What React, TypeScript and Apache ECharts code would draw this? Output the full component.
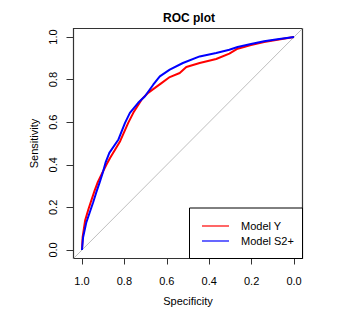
import React, { useEffect, useRef } from "react";
import * as echarts from "echarts";

const xTicks = [0, 0.2, 0.4, 0.6, 0.8, 1.0];
const yTicks = [0, 0.2, 0.4, 0.6, 0.8, 1.0];

// Model Y (red): specificity, sensitivity
const redSpec = [1, 0.997, 0.985, 0.97, 0.955, 0.94, 0.925, 0.905, 0.885, 0.867, 0.82, 0.782, 0.758, 0.719, 0.688, 0.656, 0.63, 0.586, 0.539, 0.508, 0.445, 0.367, 0.305, 0.266, 0.203, 0.141, 0.078, 0];
const redSens = [0, 0.06, 0.14, 0.19, 0.235, 0.28, 0.32, 0.36, 0.4, 0.433, 0.511, 0.597, 0.644, 0.706, 0.738, 0.761, 0.78, 0.812, 0.831, 0.859, 0.878, 0.897, 0.922, 0.945, 0.962, 0.977, 0.987, 1];

// Model S2+ (blue): specificity, sensitivity
const blueSpec = [1, 0.995, 0.98, 0.964, 0.948, 0.933, 0.917, 0.902, 0.889, 0.871, 0.828, 0.797, 0.774, 0.735, 0.703, 0.664, 0.633, 0.586, 0.524, 0.445, 0.367, 0.305, 0.266, 0.203, 0.141, 0.078, 0];
const blueSens = [0, 0.058, 0.128, 0.175, 0.222, 0.269, 0.316, 0.363, 0.41, 0.456, 0.519, 0.597, 0.644, 0.691, 0.722, 0.776, 0.815, 0.847, 0.878, 0.909, 0.925, 0.94, 0.953, 0.967, 0.98, 0.99, 1];

const diagSpec = [1.04, -0.04];
const diagSens = [-0.04, 1.04];

const FONT = "Liberation Sans, Arial, Helvetica, sans-serif";

export default function App() {
  const ref = useRef<HTMLDivElement>(null);
  useEffect(() => {
    if (!ref.current) return;
    const chart = echarts.init(ref.current, null, { renderer: "svg" });
    const zip = (a: number[], b: number[]) => a.map((v, i) => [v, b[i]]);
    chart.setOption({
      animation: false,
      backgroundColor: "#ffffff",
      textStyle: { fontFamily: FONT },
      title: {
        text: "ROC plot",
        left: 184,
        top: 7,
        textAlign: "center",
        textStyle: { fontFamily: FONT, fontSize: 12, fontWeight: "bold", color: "#000" },
      },
      grid: {
        left: 73.5,
        right: 45.5,
        top: 28.5,
        bottom: 58.5,
        containLabel: false,
        show: true,
        borderColor: "#333",
        borderWidth: 1.2,
        backgroundColor: "transparent",
      },
      xAxis: {
        type: "value",
        position: "bottom",
        inverse: true,
        min: -0.04,
        max: 1.04,
        splitLine: { show: false },
        axisLine: { show: false, onZero: false },
        axisTick: { show: true, length: 6, customValues: xTicks, lineStyle: { color: "#333", width: 1 } },
        axisLabel: {
          margin: 17,
          fontSize: 11,
          color: "#000",
          fontFamily: FONT,
          formatter: (v: number) => v.toFixed(1),
          customValues: xTicks,
        },
        name: "Specificity",
        nameLocation: "middle",
        nameGap: 37,
        nameTextStyle: { fontSize: 11, color: "#000", fontFamily: FONT },
      },
      yAxis: {
        type: "value",
        position: "left",
        min: -0.04,
        max: 1.04,
        splitLine: { show: false },
        axisLine: { show: false, onZero: false },
        axisTick: { show: true, length: 7, customValues: yTicks, lineStyle: { color: "#333", width: 1 } },
        axisLabel: {
          margin: 15,
          rotate: 90,
          fontSize: 11,
          color: "#000",
          fontFamily: FONT,
          formatter: (v: number) => v.toFixed(1),
          customValues: yTicks,
        },
        name: "Sensitivity",
        nameLocation: "middle",
        nameGap: 32,
        nameTextStyle: { fontSize: 11, color: "#000", fontFamily: FONT },
      },
      legend: {
        orient: "vertical",
        left: 202,
        top: 218.5,
        padding: 0,
        z: 120,
        icon: "rect",
        itemWidth: 27,
        itemHeight: 1.2,
        itemGap: 0,
        textStyle: { fontSize: 11, color: "#000", fontFamily: FONT, lineHeight: 15, padding: [0, 0, 0, 7] },
        data: ["Model Y", "Model S2+"],
      },
      graphic: [
        {
          type: "rect",
          z: 50,
          shape: { x: 189.5, y: 208, width: 113, height: 50.5 },
          style: { fill: "#fff", stroke: "#000", lineWidth: 1 },
        },
      ],
      series: [
        {
          type: "line",
          name: "diag",
          data: zip(diagSpec, diagSens),
          showSymbol: false,
          silent: true,
          lineStyle: { color: "#bebebe", width: 1 },
          z: 1,
        },
        {
          type: "line",
          name: "Model Y",
          data: zip(redSpec, redSens),
          showSymbol: false,
          color: "#ff0000",
          lineStyle: { color: "#ff0000", width: 2 },
          z: 2,
        },
        {
          type: "line",
          name: "Model S2+",
          data: zip(blueSpec, blueSens),
          showSymbol: false,
          color: "#0000ff",
          lineStyle: { color: "#0000ff", width: 2 },
          z: 3,
        },
      ],
    });
    return () => chart.dispose();
  }, []);
  return <div ref={ref} style={{ width: 348, height: 317, position: "absolute", left: 0, top: 0 }} />;
}
